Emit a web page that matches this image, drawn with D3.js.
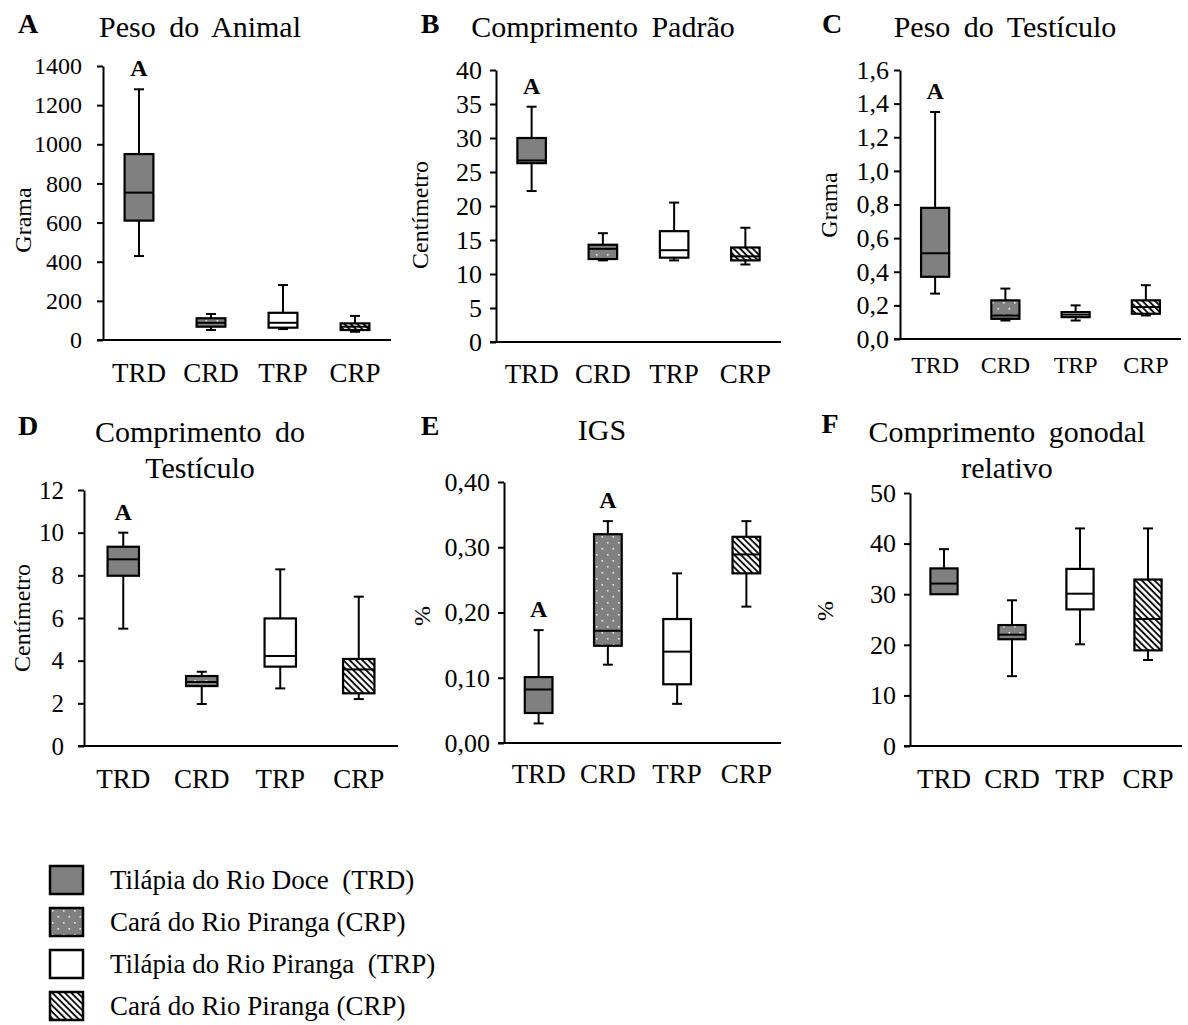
<!DOCTYPE html>
<html>
<head>
<meta charset="utf-8">
<script src="https://d3js.org/d3.v7.min.js"></script>
<style>
  body { margin: 0; background: #fff; }
  svg { display: block; font-family: "Liberation Serif", "Times New Roman", serif; }
  svg text { font-family: "Liberation Serif", "Times New Roman", serif !important; fill: #000; }
</style>
</head>
<body>
<svg width="1188" height="1025"></svg>
<script>
const categories = ['TRD', 'CRD', 'TRP', 'CRP'];

// each box: [min, q1, median, q3, max]
const pesoAnimal = [[429, 610, 753, 950, 1281], [51, 68, 88, 111, 133], [56, 63, 88, 139, 281], [42, 51, 68, 85, 123]];
const comprimentoPadrao = [[22.2, 26.3, 26.7, 30.0, 34.6], [12.0, 12.2, 13.7, 14.3, 16.0], [12.0, 12.4, 13.5, 16.3, 20.5], [11.4, 12.0, 12.6, 13.9, 16.8]];
const pesoTesticulo = [[0.27, 0.37, 0.51, 0.78, 1.35], [0.11, 0.12, 0.14, 0.23, 0.30], [0.11, 0.13, 0.145, 0.16, 0.20], [0.14, 0.15, 0.19, 0.23, 0.32]];
const comprimentoTesticulo = [[5.5, 7.98, 8.75, 9.34, 10.0], [1.97, 2.81, 3.0, 3.28, 3.48], [2.7, 3.72, 4.22, 5.98, 8.28], [2.2, 2.47, 3.59, 4.08, 7.0]];
const igs = [[0.030, 0.046, 0.082, 0.101, 0.173], [0.12, 0.149, 0.172, 0.320, 0.34], [0.06, 0.09, 0.14, 0.19, 0.26], [0.209, 0.26, 0.289, 0.316, 0.34]];
const comprimentoGonadal = [[30.0, 30.0, 32.1, 35.1, 38.9], [13.8, 21.1, 22.0, 23.9, 28.8], [20.1, 27.0, 30.1, 35.0, 43.0], [17.0, 18.9, 25.1, 32.9, 43.0]];

const ticksA = [0, 200, 400, 600, 800, 1000, 1200, 1400];
const ticksB = [0, 5, 10, 15, 20, 25, 30, 35, 40];
const ticksC = [0, 0.2, 0.4, 0.6, 0.8, 1.0, 1.2, 1.4, 1.6];
const ticksD = [0, 2, 4, 6, 8, 10, 12];
const ticksE = [0, 0.1, 0.2, 0.3, 0.4];
const ticksF = [0, 10, 20, 30, 40, 50];

const sigA = ['A', '', '', ''];
const sigB = ['A', '', '', ''];
const sigC = ['A', '', '', ''];
const sigD = ['A', '', '', ''];
const sigE = ['A', 'A', '', ''];
const sigF = ['', '', '', ''];

const legendLabels = ['Tilápia do Rio Doce  (TRD)', 'Cará do Rio Piranga (CRP)', 'Tilápia do Rio Piranga  (TRP)', 'Cará do Rio Piranga (CRP)'];

const serif = '"Liberation Serif", "Times New Roman", serif';
const comma = f => v => d3.format(f)(v).replace('.', ',');

const panels = [
  { letter: 'A', title: ['Peso do Animal'], yTitle: 'Grama', data: pesoAnimal, ticks: ticksA, sig: sigA, fmt: d3.format('d'),
    x0: 103, x1: 391, yBase: 340, yTop: 66, pad: 15, tickFs: 24, catDy: 42, catFs: 27,
    titleX: 200, titleY: [37], letterX: 28, letterY: 33, yTitleX: 31, yTitleY: 220 },
  { letter: 'B', title: ['Comprimento Padrão'], yTitle: 'Centímetro', data: comprimentoPadrao, ticks: ticksB, sig: sigB, fmt: d3.format('d'),
    x0: 496, x1: 781, yBase: 342, yTop: 70, pad: 8, tickFs: 26, catDy: 41, catFs: 27,
    titleX: 603, titleY: [37], letterX: 430, letterY: 33, yTitleX: 428, yTitleY: 215 },
  { letter: 'C', title: ['Peso do Testículo'], yTitle: 'Grama', data: pesoTesticulo, ticks: ticksC, sig: sigC, fmt: comma('.1f'),
    x0: 900, x1: 1181, yBase: 339, yTop: 70, pad: 5, tickFs: 26, catDy: 34, catFs: 24,
    titleX: 1005, titleY: [37], letterX: 832, letterY: 33, yTitleX: 837, yTitleY: 205 },
  { letter: 'D', title: ['Comprimento do', 'Testículo'], yTitle: 'Centímetro', data: comprimentoTesticulo, ticks: ticksD, sig: sigD, fmt: d3.format('d'),
    x0: 84, x1: 398, yBase: 746, yTop: 490, pad: 14, tickFs: 25, catDy: 42, catFs: 27,
    titleX: 200, titleY: [442, 478], letterX: 28, letterY: 435, yTitleX: 30, yTitleY: 618 },
  { letter: 'E', title: ['IGS'], yTitle: '%', data: igs, ticks: ticksE, sig: sigE, fmt: comma('.2f'),
    x0: 504, x1: 781, yBase: 743, yTop: 482, pad: 8, tickFs: 26, catDy: 40, catFs: 27,
    titleX: 602, titleY: [440], letterX: 430, letterY: 435, yTitleX: 430, yTitleY: 616 },
  { letter: 'F', title: ['Comprimento gonodal', 'relativo'], yTitle: '%', data: comprimentoGonadal, ticks: ticksF, sig: sigF, fmt: d3.format('d'),
    x0: 910, x1: 1182, yBase: 746, yTop: 493, pad: 8, tickFs: 26, catDy: 42, catFs: 27,
    titleX: 1007, titleY: [442, 478], letterX: 830, letterY: 433, yTitleX: 833, yTitleY: 611 }
];

const svg = d3.select('svg');

// fill patterns
const defs = svg.append('defs');
const dots = defs.append('pattern').attr('id', 'dots').attr('patternUnits', 'userSpaceOnUse')
  .attr('width', 11).attr('height', 12);
dots.append('rect').attr('width', 11).attr('height', 12).attr('fill', '#808080');
dots.append('rect').attr('x', 2).attr('y', 2).attr('width', 1.6).attr('height', 1.6).attr('fill', '#e8e8e8');
dots.append('rect').attr('x', 7.5).attr('y', 8).attr('width', 1.6).attr('height', 1.6).attr('fill', '#e8e8e8');

const hatch = defs.append('pattern').attr('id', 'hatch').attr('patternUnits', 'userSpaceOnUse')
  .attr('width', 4.5).attr('height', 4.5).attr('patternTransform', 'rotate(-45)');
hatch.append('rect').attr('width', 4.5).attr('height', 4.5).attr('fill', '#fff');
hatch.append('line').attr('x1', 1).attr('x2', 1).attr('y1', 0).attr('y2', 4.5)
  .attr('stroke', '#000').attr('stroke-width', 1.8);

const fills = ['#808080', 'url(#dots)', '#ffffff', 'url(#hatch)'];

panels.forEach(p => {
  const g = svg.append('g');
  const x = d3.scaleBand().domain(categories).range([p.x0, p.x1]);
  const y = d3.scaleLinear().domain([0, p.ticks[p.ticks.length - 1]]).range([p.yBase, p.yTop]);

  // y axis
  g.append('g')
    .attr('transform', `translate(${p.x0},0)`)
    .call(d3.axisLeft(y).tickValues(p.ticks).tickFormat(p.fmt).tickSize(6).tickSizeOuter(0).tickPadding(p.pad))
    .call(a => a.attr('font-family', serif).attr('font-size', p.tickFs))
    .call(a => a.selectAll('path, line').attr('stroke', '#000').attr('stroke-width', 2))
    .call(a => a.selectAll('text').style('font-family', serif).attr('font-size', p.tickFs));

  // x axis: labels only, baseline line drawn below
  g.append('g')
    .attr('transform', `translate(0,${p.yBase})`)
    .call(d3.axisBottom(x).tickSize(0).tickSizeOuter(0))
    .call(a => a.attr('font-family', serif).attr('font-size', p.catFs))
    .call(a => a.select('.domain').remove())
    .call(a => a.selectAll('text').attr('y', p.catDy).attr('dy', 0)
      .style('font-family', serif).attr('font-size', p.catFs));

  g.append('line')
    .attr('x1', p.x0 - 6).attr('x2', p.x1)
    .attr('y1', p.yBase).attr('y2', p.yBase)
    .attr('stroke', '#000').attr('stroke-width', 2);

  const bw = x.bandwidth() * 0.4;
  const capW = 10;
  const rows = p.data.map((s, i) => ({ s, i, cx: x(categories[i]) + x.bandwidth() / 2 }));

  const box = g.selectAll('.box').data(rows).join('g').attr('class', 'box');

  // whiskers
  box.append('line')
    .attr('x1', d => d.cx).attr('x2', d => d.cx)
    .attr('y1', d => y(d.s[4])).attr('y2', d => y(d.s[3]))
    .attr('stroke', '#000').attr('stroke-width', 2);
  box.append('line')
    .attr('x1', d => d.cx).attr('x2', d => d.cx)
    .attr('y1', d => y(d.s[1])).attr('y2', d => y(d.s[0]))
    .attr('stroke', '#000').attr('stroke-width', 2);
  box.append('line')
    .attr('x1', d => d.cx - capW / 2).attr('x2', d => d.cx + capW / 2)
    .attr('y1', d => y(d.s[4])).attr('y2', d => y(d.s[4]))
    .attr('stroke', '#000').attr('stroke-width', 2);
  box.filter(d => d.s[0] < d.s[1]).append('line')
    .attr('x1', d => d.cx - capW / 2).attr('x2', d => d.cx + capW / 2)
    .attr('y1', d => y(d.s[0])).attr('y2', d => y(d.s[0]))
    .attr('stroke', '#000').attr('stroke-width', 2);

  // box
  box.append('rect')
    .attr('x', d => d.cx - bw / 2)
    .attr('y', d => y(d.s[3]))
    .attr('width', bw)
    .attr('height', d => y(d.s[1]) - y(d.s[3]))
    .attr('fill', d => fills[d.i])
    .attr('stroke', '#000').attr('stroke-width', 2.2);

  // median
  box.append('line')
    .attr('x1', d => d.cx - bw / 2).attr('x2', d => d.cx + bw / 2)
    .attr('y1', d => y(d.s[2])).attr('y2', d => y(d.s[2]))
    .attr('stroke', '#000').attr('stroke-width', 2);

  // significance letters
  box.filter(d => p.sig[d.i]).append('text')
    .attr('x', d => d.cx).attr('y', d => y(d.s[4]) - 13)
    .attr('text-anchor', 'middle').attr('font-weight', 'bold').attr('font-size', 24)
    .text(d => p.sig[d.i]);

  // titles
  g.selectAll('.title').data(p.title).join('text')
    .attr('x', p.titleX).attr('y', (d, i) => p.titleY[i])
    .attr('text-anchor', 'middle').attr('font-size', 30).attr('word-spacing', 6)
    .text(d => d);

  g.append('text')
    .attr('x', p.letterX).attr('y', p.letterY)
    .attr('text-anchor', 'middle').attr('font-weight', 'bold').attr('font-size', 28)
    .text(p.letter);

  g.append('text')
    .attr('transform', `translate(${p.yTitleX},${p.yTitleY}) rotate(-90)`)
    .attr('text-anchor', 'middle').attr('font-size', 24)
    .text(p.yTitle);
});

// legend
const legend = svg.append('g').attr('transform', 'translate(50,866)');
const item = legend.selectAll('g').data(legendLabels).join('g')
  .attr('transform', (d, i) => `translate(0,${i * 42})`);
item.append('rect')
  .attr('width', 33).attr('height', 28)
  .attr('fill', (d, i) => fills[i])
  .attr('stroke', '#000').attr('stroke-width', 2.5);
item.append('text')
  .attr('x', 60).attr('y', 23)
  .attr('font-size', 27)
  .style('white-space', 'pre')
  .text(d => d);
</script>
</body>
</html>
